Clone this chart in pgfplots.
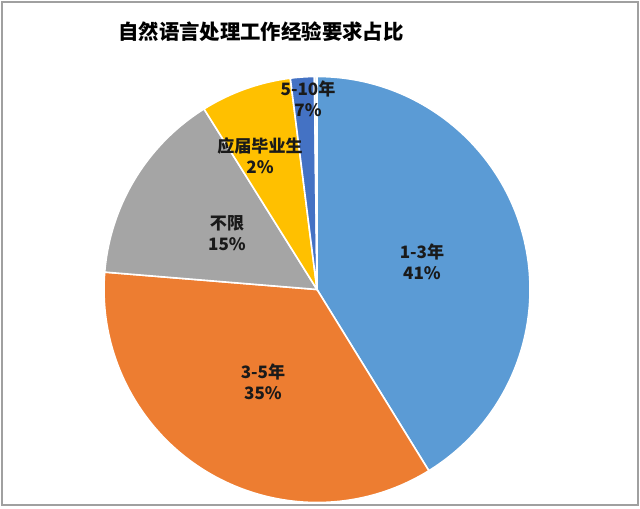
\documentclass[border=0pt]{standalone}
\usepackage{pgfplots}
\usepackage{pgfplotstable}
\pgfplotsset{compat=1.18}
\usepackage{fontspec}
\setmainfont{Noto Sans CJK SC}
\definecolor{c1}{HTML}{5B9BD5}
\definecolor{c2}{HTML}{ED7D31}
\definecolor{c3}{HTML}{A5A5A5}
\definecolor{c4}{HTML}{FFC000}
\definecolor{c5}{HTML}{4472C4}
\definecolor{c6}{HTML}{E4EBF3}
\definecolor{framegray}{HTML}{A0A0A0}
\definecolor{labtext}{HTML}{1A1A1A}
% share of each slice (percent, as drawn), clockwise from 12 o'clock
\pgfplotstableread{
label value colour
a 41.2 c1
b 35.1 c2
c 14.8 c3
d 6.9 c4
e 1.8 c5
f 0.2 c6
}\piedata
\begin{document}
\begin{tikzpicture}
\begin{axis}[
  x=0.75pt, y=0.75pt,
  xmin=0, xmax=640, ymin=0, ymax=509,
  scale only axis,
  axis line style={draw=none},
  ticks=none,
  clip=false,
]
\addplot[draw=none] coordinates {(0,0) (640,509)};
\draw[framegray, line width=0.8pt] (axis cs:2,4) rectangle (axis cs:638,507);
\pgfplotsextra{%
  \gdef\angA{90}%
  \pgfplotstablegetrowsof{\piedata}%
  \pgfmathtruncatemacro\lastrow{\pgfplotsretval-1}%
  \foreach \i in {0,...,\lastrow}{%
    \pgfplotstablegetelem{\i}{value}\of\piedata \let\sliceval\pgfplotsretval
    \pgfplotstablegetelem{\i}{colour}\of\piedata \let\slicecol\pgfplotsretval
    \pgfmathsetmacro\angB{\angA-3.6*\sliceval}%
    \fill[fill=\slicecol, draw=white, line width=1.2pt, line join=round]
      (axis cs:317,219.5) -- ++(\angA:159.75pt)
      arc[start angle=\angA, end angle=\angB, radius=159.75pt] -- cycle;
    \xdef\angA{\angB}%
  }%
}
\node[font=\bfseries\fontsize{15.3}{18}\selectfont] at (axis cs:261,477) {自然语言处理工作经验要求占比};
\begin{scope}[every node/.style={align=center, text=labtext, font=\bfseries\fontsize{12.8}{15.8}\selectfont}]
\node at (axis cs:422,247) {1-3年\\41\%};
\node at (axis cs:263,127) {3-5年\\35\%};
\node at (axis cs:227,275.5) {不限\\15\%};
\node at (axis cs:260,353.5) {应届毕业生\\2\%};
\node at (axis cs:308,410) {5-10年\\7\%};
\end{scope}
\end{axis}
\pgfresetboundingbox
\useasboundingbox (current axis.south west) rectangle (current axis.north east);
\end{tikzpicture}
\end{document}
